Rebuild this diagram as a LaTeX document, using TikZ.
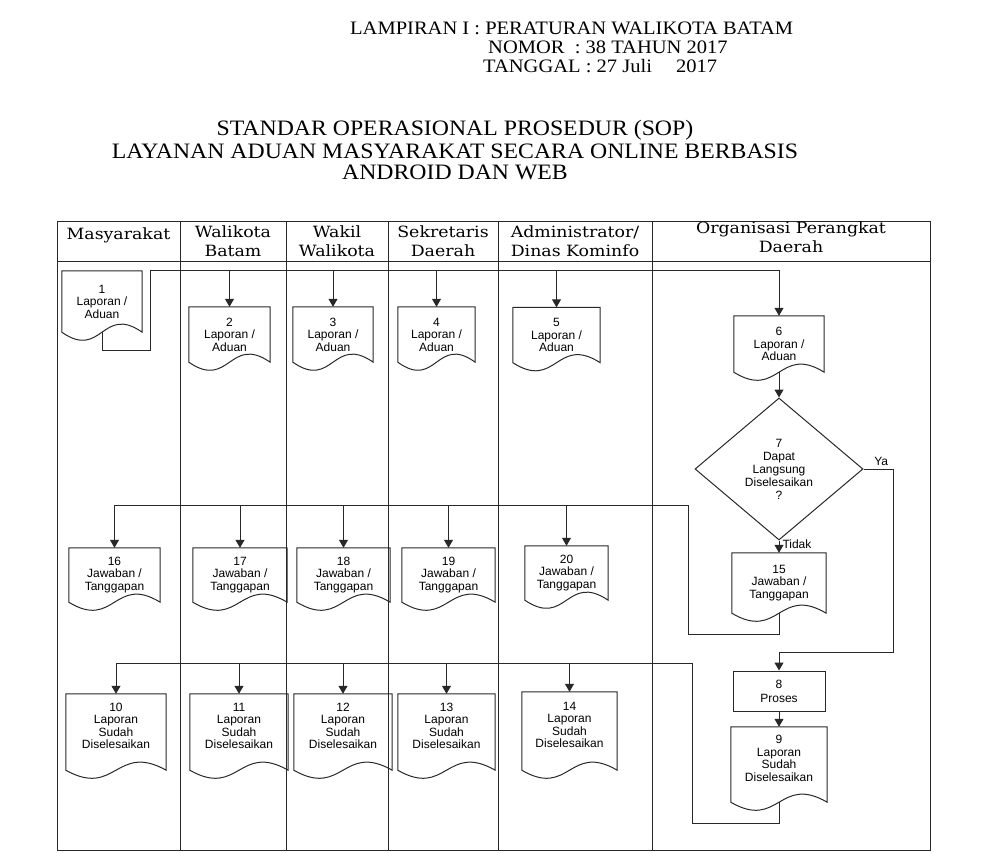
\documentclass[tikz,border=0pt]{standalone}
\usepackage{fontspec}
\setmainfont{Liberation Serif}
\newfontfamily\sopfont{Liberation Sans}
\newfontfamily\titlefont[FakeStretch=1.08]{Liberation Serif}
\newfontfamily\lanefont[FakeStretch=1.12]{DejaVu Serif}
\usetikzlibrary{arrows.meta, shapes.geometric, calc}
\definecolor{inkline}{RGB}{40,40,40}

\begin{document}
\begin{tikzpicture}[
        x=1pt, y=-1pt,
        line join=miter,
        flow/.style={draw=inkline, line width=1pt},
        arr/.style={flow, -{Triangle[width=9pt, length=8pt]}},
        lapdoc/.style={align=center, inner sep=0pt, font=\sopfont\fontsize{12}{12.5}\selectfont, minimum width=81pt, minimum height=55pt},
        jawdoc/.style={lapdoc, minimum width=93pt, minimum height=54pt},
        seldoc/.style={lapdoc, minimum width=98pt, minimum height=76pt},
        decbox/.style={diamond, flow, inner sep=0pt, minimum width=168pt, minimum height=142pt, align=center, font=\sopfont\fontsize{12}{13}\selectfont},
        procbox/.style={rectangle, flow, inner sep=0pt, minimum width=92pt, minimum height=40pt, align=center, font=\sopfont\fontsize{12}{14}\selectfont},
        lanehead/.style={anchor=north, inner sep=0pt, align=center, font=\lanefont\fontsize{15.5}{18.5}\selectfont},
        headline/.style={inner sep=0pt, font=\titlefont\fontsize{19}{22}\selectfont},
        titleline/.style={inner sep=0pt, font=\titlefont\fontsize{22}{24}\selectfont}
        ]
\useasboundingbox (0,0) rectangle (987,852);

%% Heading
\node[headline, anchor=west] (lamp) at (350,28) {LAMPIRAN I : PERATURAN WALIKOTA BATAM};
\node[headline, anchor=west] (nomor) at (488,47) {NOMOR\ \ : 38 TAHUN 2017};
\node[headline, anchor=west] (tgl) at (483,66) {TANGGAL : 27 Juli\quad\ 2017};
\node[titleline] (t1) at (455,130) {STANDAR OPERASIONAL PROSEDUR (SOP)};
\node[titleline] (t2) at (455,151) {LAYANAN ADUAN MASYARAKAT SECARA ONLINE BERBASIS};
\node[titleline] (t3) at (455,172) {ANDROID DAN WEB};

%% Lanes
\draw[flow] (57,221) rectangle (930,850);
\draw[flow] (57,261) -- (930,261);
\foreach \x in {180,286,388,498,652} {
    \draw[flow] (\x,221) -- (\x,850);
}
\node[lanehead] (h1) at (118.5,228) {Masyarakat};
\node[lanehead] (h2) at (233,226) {Walikota\\Batam};
\node[lanehead] (h3) at (337,226) {Wakil\\Walikota};
\node[lanehead] (h4) at (443,226) {Sekretaris\\Daerah};
\node[lanehead] (h5) at (575,226) {Administrator/\\Dinas Kominfo};
\node[lanehead] (h6) at (791,222) {Organisasi Perangkat\\Daerah};

%% Steps
\node[lapdoc, minimum width=80pt, minimum height=61pt] (d1) at (102,301.5) {1\\Laporan /\\Aduan};
\node[lapdoc] (d2) at (229.5,334.5) {2\\Laporan /\\Aduan};
\node[lapdoc, minimum width=80pt] (d3) at (333,334.5) {3\\Laporan /\\Aduan};
\node[lapdoc, minimum width=77pt] (d4) at (436.5,334.5) {4\\Laporan /\\Aduan};
\node[lapdoc, minimum width=87pt] (d5) at (556.5,335) {5\\Laporan /\\Aduan};
\node[lapdoc, minimum width=90pt, minimum height=56pt] (d6) at (779,344) {6\\Laporan /\\Aduan};
\node[decbox] (q7) at (779,469) {7\\Dapat\\Langsung\\Diselesaikan\\?};
\node[jawdoc, minimum width=94pt, minimum height=60pt] (d15) at (779,583) {15\\Jawaban /\\Tanggapan};
\node[jawdoc, minimum width=91pt] (d16) at (114.5,575) {16\\Jawaban /\\Tanggapan};
\node[jawdoc, minimum width=94pt] (d17) at (240,575) {17\\Jawaban /\\Tanggapan};
\node[jawdoc] (d18) at (343.5,575) {18\\Jawaban /\\Tanggapan};
\node[jawdoc] (d19) at (448.5,575) {19\\Jawaban /\\Tanggapan};
\node[jawdoc, minimum width=83pt] (d20) at (566.5,573) {20\\Jawaban /\\Tanggapan};
\node[procbox] (p8) at (779,691) {8\\Proses};
\node[seldoc, minimum width=96pt, minimum height=75pt] (d9) at (779,764.5) {9\\Laporan\\Sudah\\Diselesaikan\\\mbox{}};
\node[seldoc, minimum width=100pt] (d10) at (116,732) {10\\Laporan\\Sudah\\Diselesaikan\\\mbox{}};
\node[seldoc] (d11) at (239,732) {11\\Laporan\\Sudah\\Diselesaikan\\\mbox{}};
\node[seldoc] (d12) at (343,732) {12\\Laporan\\Sudah\\Diselesaikan\\\mbox{}};
\node[seldoc, minimum width=97pt] (d13) at (446.5,732) {13\\Laporan\\Sudah\\Diselesaikan\\\mbox{}};
\node[seldoc, minimum width=95pt, minimum height=78pt] (d14) at (569.5,731) {14\\Laporan\\Sudah\\Diselesaikan\\\mbox{}};

% document outlines with wavy bottom
\foreach \d in {d1,d2,d3,d4,d5,d6,d9,d10,d11,d12,d13,d14,d15,d16,d17,d18,d19,d20} {
    \draw[flow] (\d.south west) -- (\d.north west) -- (\d.north east) -- (\d.south east)
        .. controls ($(\d.south)+(0,-28)$) and ($(\d.south)+(0,28)$) .. (\d.south west) -- cycle;
}

%% Connectors
\coordinate (a1) at (150,350);
\coordinate (a2) at (150,270);
\draw[arr] (d1.south) |- (a1) -- (a2) -| (d6.north);
\foreach \d in {d2,d3,d4,d5} {
    \draw[arr] (\d.north |- a2) -- (\d.north);
}

\draw[arr] (d6.south) -- (q7.north);
\draw[arr] (q7.south) -- node[pos=0.3, right, inner sep=3pt, font=\sopfont\fontsize{12}{13}\selectfont] {Tidak} (d15.north);

\coordinate (y1) at (893,652);
\draw[arr] (q7.east) -| node[pos=0.3, above, inner sep=3pt, font=\sopfont\fontsize{12}{13}\selectfont] {Ya} (y1) -| (p8.north);
\draw[arr] (p8.south) -- (d9.north);

\coordinate (k1) at (688,634);
\coordinate (k2) at (688,505);
\draw[arr] (d15.south) |- (k1) -- (k2) -| (d16.north);
\foreach \d in {d17,d18,d19,d20} {
    \draw[arr] (\d.north |- k2) -- (\d.north);
}

\coordinate (m1) at (692,823);
\coordinate (m2) at (692,663);
\draw[arr] (d9.south) |- (m1) -- (m2) -| (d10.north);
\foreach \d in {d11,d12,d13,d14} {
    \draw[arr] (\d.north |- m2) -- (\d.north);
}
\end{tikzpicture}
\end{document}
